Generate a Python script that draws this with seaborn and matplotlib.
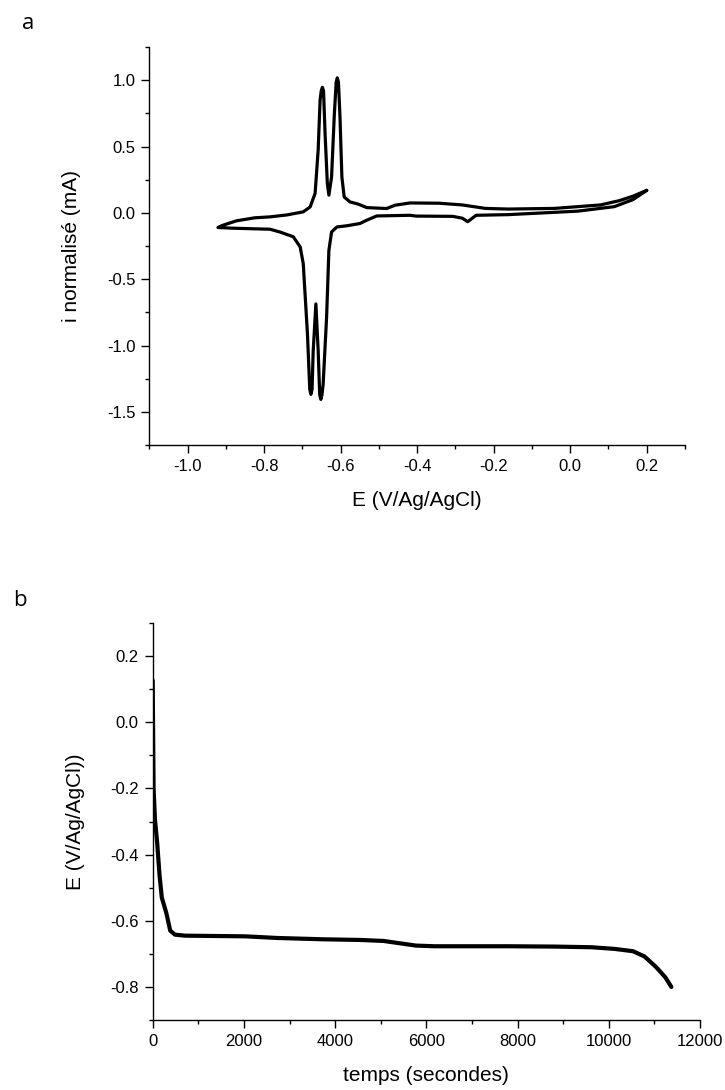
import numpy as np
import pandas as pd
import matplotlib
matplotlib.use("Agg")
import matplotlib.pyplot as plt
import seaborn as sns
from matplotlib.ticker import MultipleLocator, FormatStrFormatter

# Panel a: cyclic voltammogram (loop order)
cv_potential = [
    0.200, 0.164, 0.115, 0.019, -0.162, -0.246, -0.268, -0.282, -0.307, -0.403,
    -0.419, -0.506, -0.532, -0.550, -0.584, -0.610, -0.624, -0.631, -0.637, -0.646,
    -0.649, -0.652, -0.655, -0.659, -0.665, -0.672, -0.675, -0.678, -0.681, -0.687,
    -0.698, -0.706, -0.724, -0.759, -0.785, -0.825, -0.885, -0.921,
    -0.910, -0.873, -0.825, -0.785, -0.740, -0.698, -0.680, -0.667, -0.659, -0.654,
    -0.651, -0.648, -0.645, -0.641, -0.635, -0.631, -0.624, -0.617, -0.612, -0.609,
    -0.606, -0.602, -0.597, -0.591, -0.576, -0.554, -0.532, -0.480, -0.458, -0.419,
    -0.343, -0.282, -0.222, -0.162, -0.041, 0.079, 0.128, 0.164, 0.200,
]
cv_current = [
    0.170, 0.100, 0.047, 0.013, -0.013, -0.018, -0.066, -0.040, -0.026, -0.024,
    -0.018, -0.023, -0.055, -0.080, -0.097, -0.106, -0.144, -0.283, -0.788, -1.290,
    -1.370, -1.406, -1.370, -1.040, -0.686, -1.040, -1.330, -1.368, -1.330, -0.914,
    -0.383, -0.257, -0.180, -0.144, -0.123, -0.120, -0.115, -0.110,
    -0.095, -0.060, -0.037, -0.030, -0.015, 0.008, 0.045, 0.147, 0.475, 0.850,
    0.920, 0.947, 0.920, 0.600, 0.220, 0.134, 0.270, 0.727, 0.985, 1.018,
    0.985, 0.727, 0.270, 0.120, 0.083, 0.066, 0.040, 0.033, 0.058, 0.075,
    0.073, 0.060, 0.034, 0.029, 0.034, 0.060, 0.092, 0.126, 0.170,
]

# Panel b: potential vs time
time_s = [
    0, 20, 50, 100, 150, 200, 300, 385, 490, 710, 2025, 2734, 3747, 4557,
    5063, 5468, 5772, 6177, 6785, 7797, 8810, 9620, 10127, 10532, 10785,
    11038, 11241, 11372,
]
potential_b = [
    0.126, -0.200, -0.294, -0.367, -0.462, -0.530, -0.577, -0.630, -0.642,
    -0.645, -0.647, -0.652, -0.656, -0.658, -0.661, -0.669, -0.675, -0.677,
    -0.677, -0.677, -0.678, -0.680, -0.685, -0.692, -0.708, -0.740, -0.771,
    -0.800,
]

cv = pd.DataFrame({"E": cv_potential, "i": cv_current})
chrono = pd.DataFrame({"t": time_s, "E": potential_b})

sns.set_style("ticks")
plt.rcParams["font.family"] = ["Liberation Sans", "DejaVu Sans"]
plt.rcParams["text.color"] = "black"
plt.rcParams["axes.labelcolor"] = "black"
plt.rcParams["xtick.color"] = "black"
plt.rcParams["ytick.color"] = "black"

fig = plt.figure(figsize=(7.25, 10.9), dpi=100)
ax_a = fig.add_axes([0.2062, 0.5917, 0.7386, 0.3651])
ax_b = fig.add_axes([0.2106, 0.0642, 0.7549, 0.3642])

sns.lineplot(data=cv, x="E", y="i", sort=False, estimator=None,
             color="black", linewidth=2.3, ax=ax_a)
sns.lineplot(data=chrono, x="t", y="E", sort=False, estimator=None,
             color="black", linewidth=3.0, ax=ax_b)

ax_a.set_xlim(-1.1, 0.3)
ax_a.set_ylim(-1.75, 1.25)
ax_a.xaxis.set_major_locator(MultipleLocator(0.2))
ax_a.xaxis.set_minor_locator(MultipleLocator(0.1))
ax_a.yaxis.set_major_locator(MultipleLocator(0.5))
ax_a.yaxis.set_minor_locator(MultipleLocator(0.25))
ax_a.set_xlabel("E (V/Ag/AgCl)")
ax_a.set_ylabel("i normalisé (mA)")

ax_b.set_xlim(0, 12000)
ax_b.set_ylim(-0.9, 0.3)
ax_b.xaxis.set_major_locator(MultipleLocator(2000))
ax_b.xaxis.set_minor_locator(MultipleLocator(1000))
ax_b.yaxis.set_major_locator(MultipleLocator(0.2))
ax_b.yaxis.set_minor_locator(MultipleLocator(0.1))
ax_b.set_xlabel("temps (secondes)")
ax_b.set_ylabel("E (V/Ag/AgCl))")

for ax in (ax_a, ax_b):
    sns.despine(ax=ax)
    for side in ("left", "bottom"):
        ax.spines[side].set_linewidth(1.0)
        ax.spines[side].set_color("black")
    ax.tick_params(which="major", direction="out", length=6, width=1.0,
                   labelsize=12, color="black", labelcolor="black", pad=4)
    ax.tick_params(which="minor", direction="out", length=3, width=1.0,
                   color="black")
    ax.xaxis.label.set_size(15)
    ax.yaxis.label.set_size(15)
    ax.xaxis.set_label_coords(0.5, -0.115)

ax_a.yaxis.set_label_coords(-0.127, 0.5)
ax_b.yaxis.set_label_coords(-0.124, 0.5)
ax_a.xaxis.set_major_formatter(FormatStrFormatter("%.1f"))
ax_a.yaxis.set_major_formatter(FormatStrFormatter("%.1f"))
ax_b.yaxis.set_major_formatter(FormatStrFormatter("%.1f"))

fig.text(0.039, 0.978, "a", fontsize=16, family=["Open Sans", "DejaVu Sans"],
         ha="center", va="center")
fig.text(0.028, 0.449, "b", fontsize=16, family=["Open Sans", "DejaVu Sans"],
         ha="center", va="center")

fig.savefig("out.png", dpi=100)
